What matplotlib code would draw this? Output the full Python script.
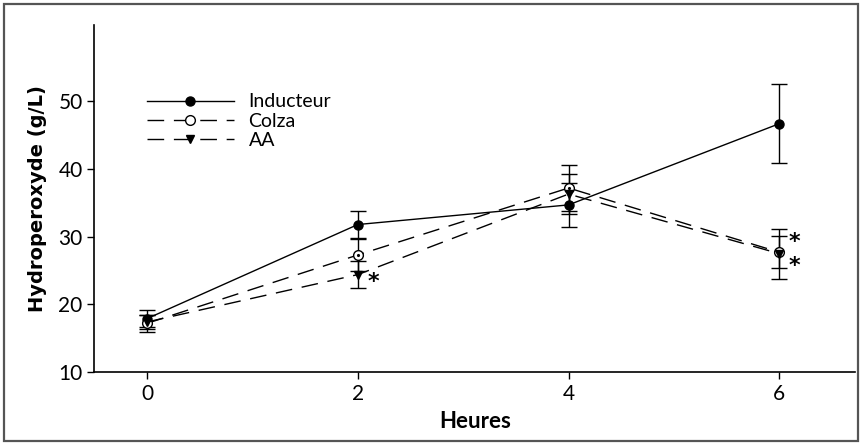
import matplotlib.pyplot as plt
from matplotlib.patches import Rectangle
from matplotlib.lines import Line2D

# Données
heures = [0, 2, 4, 6]
inducteur = [17.9, 31.8, 34.7, 46.7]
inducteur_err = [1.3, 2.0, 3.2, 5.8]
colza = [17.2, 27.3, 37.2, 27.7]
colza_err = [1.3, 2.4, 3.4, 2.4]
aa = [17.4, 24.4, 36.3, 27.5]
aa_err = [1.0, 2.0, 3.0, 3.7]

# étoiles (significativité)
etoiles_x = [2, 6, 6]
etoiles_y = [23.3, 29.2, 25.7]

plt.rcParams['font.family'] = ['Lato', 'DejaVu Sans']

fig = plt.figure(figsize=(8.62, 4.45), dpi=100)
ax = fig.add_axes([0.1096, 0.164, 0.8824, 0.78])

# cadre autour de la figure
fig.patches.append(Rectangle((0.005, 0.008), 0.99, 0.984, transform=fig.transFigure,
                             fill=False, edgecolor='#555555', linewidth=1.6))

common = dict(color='black', linewidth=1.0, capsize=6, elinewidth=1.0,
              capthick=1.0, zorder=3)

ax.errorbar(heures, inducteur, yerr=inducteur_err, fmt='-o', markersize=6.5,
            markerfacecolor='black', **common)
ax.errorbar(heures, colza, yerr=colza_err, fmt='o', linestyle=(0, (12, 7)),
            markersize=7, markerfacecolor='white', markeredgewidth=1.0, **common)
ax.plot(heures, colza, linestyle='none', marker='.', markersize=2.5,
        color='black', zorder=4)
ax.errorbar(heures, aa, yerr=aa_err, fmt='v', linestyle=(0, (12, 7)),
            markersize=6, markerfacecolor='black', **common)

for x, y in zip(etoiles_x, etoiles_y):
    ax.text(x + 0.09, y, '*', fontsize=16, fontweight='bold',
            family=['DejaVu Sans'], ha='left', va='center')

# légende
h_ind = Line2D([], [], color='black', lw=1.0, marker='o', markersize=6.5)
h_col = Line2D([], [], color='black', lw=1.0, linestyle=(0, (12, 7)), marker='o',
               markersize=7, markerfacecolor='white')
h_aa = Line2D([], [], color='black', lw=1.0, linestyle=(0, (12, 7)), marker='v',
              markersize=6)
ax.legend([h_ind, h_col, h_aa], ['Inducteur', 'Colza', 'AA'],
          loc='upper left', bbox_to_anchor=(0.17, 0.79), bbox_transform=fig.transFigure,
          frameon=False, fontsize=14, handlelength=4.5, handletextpad=0.75,
          labelspacing=0.12, borderpad=0, borderaxespad=0)

ax.set_xlim(-0.5, 6.72)
ax.set_ylim(10, 61.3)
ax.set_xticks(heures)
ax.set_yticks([10, 20, 30, 40, 50])
ax.tick_params(labelsize=15, length=5, width=1.0)

ax.spines['top'].set_visible(False)
ax.spines['right'].set_visible(False)
ax.spines['left'].set_linewidth(1.2)
ax.spines['bottom'].set_linewidth(1.2)

ax.set_xlabel('Heures', fontsize=16, fontweight='bold', labelpad=5)
ax.set_ylabel('Hydroperoxyde (g/L)', fontsize=14, fontweight='bold',
              family=['DejaVu Sans'], labelpad=8)

fig.savefig('out.png', dpi=100)
